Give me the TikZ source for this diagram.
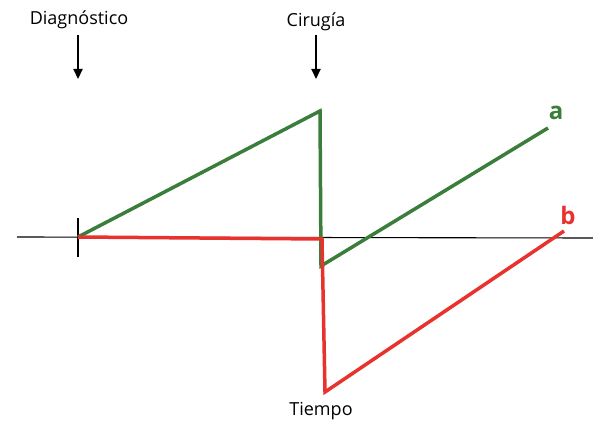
\documentclass[tikz,border=0pt]{standalone}
\usepackage{fontspec}
\setmainfont{Open Sans}
\usetikzlibrary{arrows.meta}
\definecolor{gA}{HTML}{3B7D3B}
\definecolor{rB}{HTML}{E8322E}
\tikzset{
  lbl/.style={font=\fontsize{18}{20}\selectfont, inner sep=0pt},
  curveA/.style={draw=gA, line width=3.5pt, line join=miter},
  curveB/.style={draw=rB, line width=3.5pt, line join=miter},
  marker/.style={-{Triangle[length=10pt,width=9pt]}, line width=2.2pt},
  axisline/.style={line width=1.1pt}
}
\begin{document}
\begin{tikzpicture}[x=1pt,y=-1pt]
\useasboundingbox (0,0) rectangle (593,425);
% axis
\coordinate (axL) at (17,237);
\coordinate (axR) at (593,238);
\draw[axisline] (axL) -- (axR);
\coordinate (tickT) at (78,218);
\coordinate (tickB) at (78,257);
\draw[axisline] (tickT) -- (tickB);
% labels
\node[lbl] (diag) at (79,20) {Diagnóstico};
\node[lbl] (cir) at (316,22) {Cirugía};
\node[lbl] (tiempo) at (321,411) {Tiempo};
\coordinate (diagS) at (78,35);
\coordinate (diagE) at (78,79);
\coordinate (cirS) at (316,35);
\coordinate (cirE) at (316,79);
\draw[marker] (diagS) -- (diagE);
\draw[marker] (cirS) -- (cirE);
% curve a
\coordinate (o) at (78,237);
\coordinate (a1) at (320,111);
\coordinate (a2) at (321,266);
\coordinate (a3) at (548,128);
\draw[curveA] (o) -- (a1) -- (a2) -- (a3);
% curve b
\coordinate (b1) at (322,239);
\coordinate (b2) at (325,392);
\coordinate (b3) at (564,231);
\draw[curveB] (o) -- (b1) -- (b2) -- (b3);
\node[lbl, text=gA, font=\fontsize{24}{26}\selectfont\bfseries] (la) at (556,113) {a};
\node[lbl, text=rB, font=\fontsize{24}{26}\selectfont\bfseries] (lb) at (568,215) {b};
\end{tikzpicture}
\end{document}
